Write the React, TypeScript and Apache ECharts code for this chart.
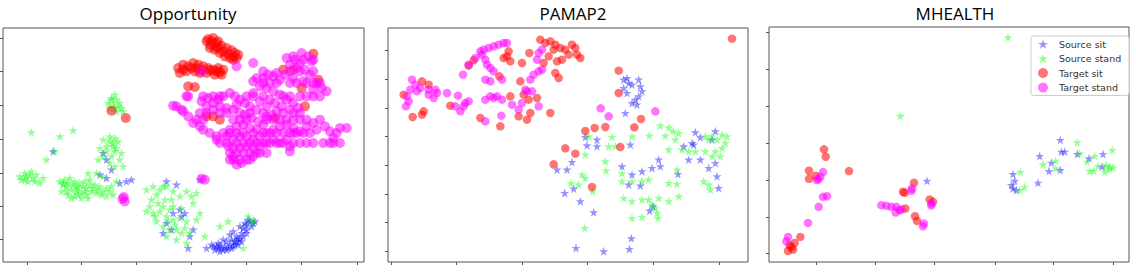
import React, { useEffect, useRef } from "react";
import * as echarts from "echarts";

// t-SNE embedding coordinates (arbitrary units) per dataset
const classNames = ["Source sit", "Source stand", "Target sit", "Target stand"];
const panelTitles = ["Opportunity", "PAMAP2", "MHEALTH"];

// ---------- Opportunity ----------
const oppSourceSit = [
  [160,455],[310,460],[320,480],[335,510],[320,535],[360,550],[380,545],[395,540],[300,525],
  [500,545],[530,555],[600,540],[520,640],[540,630],[500,670],[490,700],[515,690],[570,710],
  [565,745],[580,690],[545,650],[555,640],[640,740],[655,745],[670,750],[685,745],[700,740],
  [715,735],[680,725],[695,720],[710,710],[725,700],[740,690],[755,680],[765,665],[700,695],
  [690,705],[670,720],[655,730],[720,680],[735,670],[745,660],[710,725],[660,755],[645,750],
  [660,735],[675,740],[690,735],[705,725],[730,685],[750,665],[620,745],[635,735],
  [665,745],[680,750],[695,745],[705,735],[720,720],[730,710],[740,700],[650,740],[715,715],
  [725,725],[760,670],[740,675]
];
const oppSourceStand = [
  [345,285],[335,300],[350,300],[325,310],[340,315],[355,320],[365,325],[330,325],[350,335],[370,335],
  [95,398],[180,410],[220,392],
  [310,420],[330,410],[345,415],[355,425],[340,430],[320,440],[300,445],[350,445],[365,460],
  [335,470],[310,470],[295,480],[330,490],[360,480],[370,500],[345,500],
  [65,540],[80,530],[95,515],[100,535],[85,545],[110,525],[120,550],[130,535],[140,480],[165,455],[75,520],
  [180,545],[195,540],[210,535],[225,545],[240,550],[255,545],[270,540],[285,555],[300,560],
  [320,565],[335,560],[200,560],[215,570],[230,575],[245,580],[260,585],[275,575],[290,580],
  [305,585],[320,590],[185,575],[205,585],[225,590],[245,595],[265,595],[340,585],[350,545],
  [265,520],[290,520],[310,530],[190,555],[230,560],[260,565],
  [190,550],[205,550],[220,555],[235,565],[250,560],[270,555],[280,565],[295,570],[310,575],
  [330,575],[200,575],[215,595],[235,585],[255,575],[75,540],[90,525],[105,545],[60,530],
  [340,440],[320,455],[345,455],[330,425],[335,295],[360,310],[345,325],
  [440,570],[460,560],[480,570],[500,560],[520,575],[540,590],[560,575],[575,590],[590,580],
  [455,600],[475,610],[495,600],[440,635],[460,640],[480,635],[500,650],[520,660],[540,655],
  [560,665],[470,665],[490,680],[510,690],[530,690],[555,685],[570,700],[590,660],[600,640],
  [520,620],[545,625],[500,710],[530,720],[560,730],[615,710],[660,680],[685,665],[745,650],
  [755,670],[730,745],[760,660],[450,620],[580,610],
  [470,585],[490,620],[510,630],[465,650],[505,665],[525,675],[545,700],[515,600],[490,560]
];
const oppTargetSit = [
  [625,118],[640,115],[655,125],[632,135],[648,140],[665,138],[680,145],[695,152],[705,160],
  [715,165],[660,160],[675,170],[690,175],[700,180],[645,150],[620,125],
  [630,145],[650,130],[670,155],[685,162],[700,170],[710,175],[635,125],[655,145],
  [535,205],[550,195],[565,200],[580,190],[595,195],[610,200],[625,205],[640,210],[655,205],
  [670,210],[540,220],[560,215],[585,215],[600,220],[620,220],[645,225],[665,225],
  [575,205],[590,205],[605,210],[630,212],[650,215],[550,210],[660,218],
  [565,260],[585,262],[335,333],[378,355],
  [940,162],[905,265],[955,240],[915,320],[825,355],[640,350],[660,360],[620,350],[850,210],[880,210]
];
const oppTargetStand = [
  [860,175],[880,170],[905,160],[925,170],[935,185],[900,190],[870,195],[890,205],[915,210],
  [930,225],[950,250],[965,265],[980,275],[940,270],[910,245],[880,235],[855,225],[830,220],
  [805,225],[790,235],[770,235],[760,245],[780,260],[800,265],[820,275],[840,285],[860,300],
  [880,310],[895,325],[870,330],[845,320],[825,310],[810,300],[830,335],[815,345],[800,350],
  [790,340],[770,330],[750,320],[735,310],[720,300],[705,290],[690,280],[670,290],[655,300],
  [640,310],[625,295],[610,290],[605,305],[620,320],[640,330],[660,320],[680,325],[700,330],
  [710,315],[735,345],[755,355],[775,365],[790,375],[770,390],[750,385],[730,375],[710,380],
  [690,390],[670,400],[650,410],[630,400],[610,390],[600,380],[580,370],[565,350],[550,335],
  [530,320],[545,330],[520,318],[650,420],[680,410],[700,420],[720,410],[740,410],[760,420],
  [780,410],[800,400],[820,390],[840,380],[860,375],[880,385],[900,395],[920,380],[940,370],
  [960,360],[975,380],[990,395],[1010,400],[1000,415],[1020,385],[1040,385],[970,430],[990,430],
  [950,390],[930,400],[860,420],[840,430],[820,420],[800,430],[780,440],[760,445],[740,440],
  [720,445],[700,445],[690,460],[700,480],[710,495],[725,490],[740,480],[760,470],[780,460],
  [700,470],[685,440],[870,455],[870,440],[850,400],[880,400],[760,190],[710,200],[560,290],
  [790,215],[820,230],[840,240],[760,280],[740,290],[780,305],[800,320],[565,290],[605,215],
  [790,250],[810,250],[830,250],[870,250],[890,250],[920,250],[940,250],[960,250],
  [640,290],[660,290],[760,290],[790,290],[850,290],[870,290],[900,290],[920,290],[940,290],[960,290],
  [600,340],[620,340],[660,340],[680,340],[720,340],[750,340],[850,340],[880,340],[900,340],
  [590,360],[610,360],[700,360],[720,360],[740,360],[800,360],[820,360],[840,360],[860,360],
  [880,360],[900,360],[920,360],
  [690,400],[710,400],[730,400],[760,400],[790,400],[810,400],[830,400],[870,400],[890,400],[910,400],
  [660,430],[680,430],[710,430],[730,430],[750,430],[770,430],[790,430],[810,430],[830,430],
  [850,430],[880,430],[900,430],[920,430],[940,430],[1000,430],[1020,430],
  [710,460],[730,460],[750,460],[770,460],[800,460],[690,480],[720,480],[750,480],
  [885,180],[910,180],[940,180],[870,215],[900,215],[940,215],
  [368,598],[375,605],[372,592],[605,537],[615,540]
];

// ---------- PAMAP2 ----------
const pamSourceSit = [
  [745,240],[755,235],[760,250],[745,265],[770,255],[790,240],[795,260],[800,275],[790,290],
  [780,300],[770,310],[785,315],[750,340],[755,280],
  [630,412],[665,420],[635,437],[665,440],[765,435],[590,487],[545,510],[575,510],[740,500],
  [770,525],[800,515],[830,505],[855,500],[850,480],[960,398],[975,413],[950,430],[925,440],
  [940,480],[975,480],[908,523],[1000,505],[1025,530],[1020,490],[1020,395],[1030,565],
  [568,580],[595,567],[615,605],[655,638],[760,555],[795,558],[823,633],[833,620],[768,716],
  [762,748],[685,755],[602,745],[955,435],[1010,420]
];
const pamSourceStand = [
  [640,410],[710,412],[700,440],[720,440],[770,410],[822,408],[855,378],[880,383],[870,408],
  [893,395],[910,400],[900,420],[880,450],[920,450],[940,455],[960,455],[990,410],[1000,420],
  [1010,410],[1025,420],[1040,405],[1055,410],[1050,430],[1040,445],[1035,470],[1020,455],
  [1010,470],[990,455],[985,545],[1000,555],[1005,570],[630,465],[620,525],[630,535],[587,550],
  [610,555],[652,575],[690,485],[692,513],[740,520],[740,545],[770,545],[800,545],[820,540],
  [880,550],[905,553],[745,595],[770,605],[800,600],[820,600],[830,615],[840,625],[845,640],
  [848,655],[800,652],[770,655],[880,605],[910,590],[905,510],[628,685],[850,595]
];
const pamTargetSit = [
  [140,245],[160,255],[85,285],[145,335],[140,345],[112,352],[225,318],[295,182],[280,198],
  [315,355],[375,380],[395,170],[400,155],[405,185],[385,175],[372,230],[405,290],[435,245],
  [445,285],[460,300],[465,340],[455,360],[430,350],[485,295],[525,340],[462,160],[440,190],
  [495,120],[510,130],[525,125],[540,135],[555,145],[570,150],[590,135],[600,145],[615,175],
  [605,165],[580,165],[560,180],[545,185],[535,150],[520,170],[505,190],[540,220],[550,235],
  [730,213],[730,280],[797,358],[777,383],[690,382],[658,385],[630,394],[735,442],[570,446],
  [600,462],[535,494],[650,562],[1070,117]
];
const pamTargetStand = [
  [110,240],[120,255],[105,270],[95,290],[92,320],[100,305],[125,275],[135,265],[160,285],
  [175,295],[185,280],[180,270],[160,270],[215,280],[248,288],[270,310],[265,320],[255,335],
  [280,305],[240,320],[263,225],[280,195],[300,175],[315,155],[320,165],[330,180],[335,195],
  [345,205],[325,150],[340,145],[355,140],[370,135],[385,130],[395,130],[330,240],[345,245],
  [330,300],[345,290],[355,295],[365,290],[380,300],[355,215],[380,240],[378,348],[330,365],
  [410,315],[430,330],[440,310],[450,270],[465,240],[475,225],[490,215],[500,210],[485,180],
  [490,160],[500,150],[455,275],[470,275],[490,320],[700,350],[676,326],[840,335]
];

// ---------- MHEALTH ----------
const mhSourceSit = [
  [902,420],[840,468],[905,455],[915,455],[953,462],[875,488],[868,513],[902,510],[760,522],
  [765,542],[755,555],[760,565],[770,570],[835,548],[1030,462],[988,475],[1027,500],[502,542]
];
const mhSourceStand = [
  [745,113],[422,348],[782,516],[795,560],[780,570],[850,493],[888,482],[888,505],[953,427],
  [960,460],[982,485],[1005,468],[990,513],[1002,512],[1015,498],[1040,495],[1050,500],
  [1058,450],[1035,515],[1048,508],[1060,502]
];
const mhTargetSit = [
  [193,448],[198,470],[148,512],[148,536],[168,527],[268,513],[122,710],[105,728],[95,740],
  [85,752],[100,748],[430,575],[435,578],[463,548],[437,625],[466,648],[472,662],[510,598],
  [520,605],[90,735]
];
const mhTargetStand = [
  [190,516],[182,530],[172,540],[176,537],[190,590],[202,588],[177,620],[145,668],[85,710],
  [80,723],[365,615],[380,617],[395,620],[410,620],[420,630],[408,637],[425,628],[455,572],
  [457,565],[490,678],[493,670],[515,610],[515,616]
];

// axis tick positions (in embedding units)
const oppXTicks = [82, 245, 410, 575, 740, 905, 1072];
const oppYTicks = [115, 215, 318, 420, 520, 620, 720];
const pamXTicks = [48, 243, 440, 637, 833, 1032];
const pamYTicks = [152, 238, 325, 410, 497, 583, 668, 755];
const mhXTicks = [170, 347, 524, 706, 880, 1060];
const mhYTicks = [98, 208, 320, 430, 540, 650, 760];

// axis extents
const oppExtent = { x: [10, 1092], y: [85, 787] };
const pamExtent = { x: [38, 1118], y: [85, 787] };
const mhExtent = { x: [28, 1108], y: [82, 785] };

const STAR =
  "path://M100 0 L122.45 69.1 L195.1 69.1 L136.3 111.8 L158.8 180.9 L100 138.2 L41.2 180.9 L63.7 111.8 L4.9 69.1 L77.55 69.1 Z";

const colors = ["#0000ff", "#00ff00", "#ff0000", "#ff00ff"];
const symbols = [STAR, STAR, "circle", "circle"];
const opac = [0.42, 0.42, 0.55, 0.55];

export default function App() {
  const ref = useRef<HTMLDivElement>(null);
  useEffect(() => {
    if (!ref.current) return;
    const chart = echarts.init(ref.current, undefined, { renderer: "svg" });
    const panels = [
      { data: [oppSourceSit, oppSourceStand, oppTargetSit, oppTargetStand], xt: oppXTicks, yt: oppYTicks, ext: oppExtent, grid: { left: 3, top: 28, width: 361, height: 234 }, cx: 183, sz: [9, 9, 10, 10] },
      { data: [pamSourceSit, pamSourceStand, pamTargetSit, pamTargetStand], xt: pamXTicks, yt: pamYTicks, ext: pamExtent, grid: { left: 388, top: 28, width: 360, height: 234 }, cx: 568, sz: [9, 9, 8.5, 8.5] },
      { data: [mhSourceSit, mhSourceStand, mhTargetSit, mhTargetStand], xt: mhXTicks, yt: mhYTicks, ext: mhExtent, grid: { left: 769, top: 27, width: 360, height: 235 }, cx: 950, sz: [9, 9, 8.5, 8.5] },
    ];
    const tickStyle = { show: true, inside: false, length: 3, lineStyle: { color: "#555", width: 1 } };
    const option: any = {
      animation: false,
      backgroundColor: "#fff",
      title: panels.map((p, i) => ({
        text: panelTitles[i],
        left: p.cx,
        top: 0,
        textAlign: "center",
        textStyle: { fontFamily: "Open Sans", fontSize: 17, fontWeight: "normal", color: "#000" },
      })),
      grid: panels.map((p) => ({ ...p.grid, show: true, borderColor: "#555", borderWidth: 1, backgroundColor: "#fff" })),
      xAxis: panels.map((p, i) => ({
        type: "value", gridIndex: i, min: p.ext.x[0], max: p.ext.x[1],
        axisLine: { show: false }, splitLine: { show: false },
        axisLabel: { show: false },
        axisTick: { ...tickStyle, customValues: p.xt },
      })),
      yAxis: panels.map((p, i) => ({
        type: "value", gridIndex: i, min: p.ext.y[0], max: p.ext.y[1], inverse: true,
        axisLine: { show: false }, splitLine: { show: false },
        axisLabel: { show: false },
        axisTick: { ...tickStyle, customValues: p.yt },
      })),
      legend: {
        data: classNames,
        orient: "vertical",
        left: 1031,
        top: 36,
        padding: [3, 8, 3, 7],
        itemGap: 4.5,
        itemWidth: 10,
        itemHeight: 10,
        textStyle: { fontFamily: "DejaVu Sans", fontSize: 9.5, color: "#333", padding: [0, 0, 0, 6] },
        borderColor: "#ccc",
        borderWidth: 1,
        borderRadius: 3,
        backgroundColor: "rgba(255,255,255,0.85)",
      },
      series: panels.flatMap((p, i) =>
        p.data.map((d, k) => ({
          type: "scatter",
          name: classNames[k],
          xAxisIndex: i,
          yAxisIndex: i,
          data: d,
          symbol: symbols[k],
          symbolSize: p.sz[k],
          itemStyle: { color: colors[k], opacity: opac[k] },
          emphasis: { disabled: true },
        }))
      ),
    };
    chart.setOption(option);
    return () => chart.dispose();
  }, []);
  return (
    <div
      ref={ref}
      style={{ position: "absolute", left: 0, top: 0, width: 1136, height: 275, background: "#fff" }}
    />
  );
}
